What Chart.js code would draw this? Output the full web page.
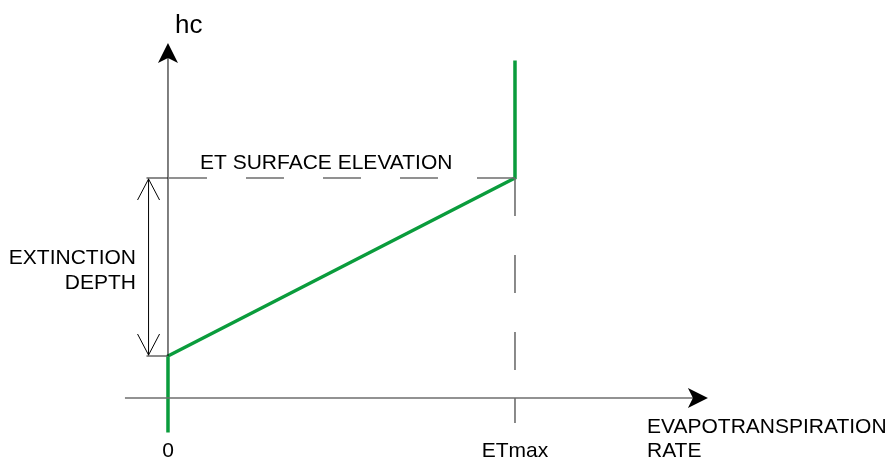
<!DOCTYPE html>
<html>
<head>
<meta charset="utf-8">
<script src="https://cdn.jsdelivr.net/npm/chart.js@4.4.0/dist/chart.umd.min.js"></script>
<style>
    html, body { margin: 0; padding: 0; background: #fff; }
    #box { width: 896px; height: 464px; }
</style>
</head>
<body>
<div id="box"><canvas id="et-chart" width="896" height="464"></canvas></div>
<script>
(function () {
    "use strict";

    // Data (x: ET rate, 0 .. ETmax = 1; y: head, 0 = extinction depth, 1 = ET surface)
    var rateX = [0, 0, 1, 1];
    var headY = [-0.43, 0, 1, 1.66];
    var tickValues = [0, 1];
    var tickLabels = ["0", "ETmax"];
    var surfaceY = 1;
    var extinctionY = 0;
    var axisY = -0.236;
    var xAxisRange = [-0.124, 1.556];
    var yAxisRange = [0, 1.758];

    var green = "#0a9c3c";
    var grey = "#6e6e6e";
    var font = "21px 'Liberation Sans', Arial, sans-serif";

    function pts(xs, ys) {
        return xs.map(function (x, i) { return {x: x, y: ys[i]}; });
    }

    function line(xs, ys, color, width, dash) {
        return {
            data: pts(xs, ys),
            showLine: true,
            borderColor: color,
            borderWidth: width,
            borderDash: dash || [],
            pointRadius: 0,
            fill: false,
            borderCapStyle: "butt",
            borderJoinStyle: "miter"
        };
    }

    // Arrows and text
    var sketch = {
        id: "sketch",
        afterDatasetsDraw: function (chart) {
            var c = chart.ctx;
            var sx = chart.scales.x, sy = chart.scales.y;
            var px = function (v) { return sx.getPixelForValue(v); };
            var py = function (v) { return sy.getPixelForValue(v); };

            c.save();
            c.fillStyle = "#000";

            // y axis head
            var tx = px(0), ty = py(yAxisRange[1]);
            c.beginPath();
            c.moveTo(tx, ty);
            c.lineTo(tx - 10, ty + 20);
            c.lineTo(tx, ty + 15);
            c.lineTo(tx + 10, ty + 20);
            c.closePath();
            c.fill();

            // x axis head
            tx = px(xAxisRange[1]); ty = py(axisY);
            c.beginPath();
            c.moveTo(tx, ty);
            c.lineTo(tx - 20, ty - 10);
            c.lineTo(tx - 15, ty);
            c.lineTo(tx - 20, ty + 10);
            c.closePath();
            c.fill();

            // extinction depth arrows (open)
            var dx = px(-0.056);
            c.strokeStyle = "#000";
            c.lineWidth = 1;
            c.beginPath();
            c.moveTo(dx - 11, py(surfaceY) + 22);
            c.lineTo(dx, py(surfaceY) + 1);
            c.lineTo(dx + 11, py(surfaceY) + 22);
            c.moveTo(dx - 11, py(extinctionY) - 22);
            c.lineTo(dx, py(extinctionY) - 1);
            c.lineTo(dx + 11, py(extinctionY) - 22);
            c.stroke();

            // labels
            c.font = font;
            c.textBaseline = "alphabetic";
            c.textAlign = "left";
            c.font = "26px 'Liberation Sans', Arial, sans-serif";
            c.fillText("hc", px(0) + 7, 33);
            c.font = font;

            c.textAlign = "center";
            c.fillText("ET SURFACE ELEVATION", px(0.456), py(surfaceY) - 9);
            tickValues.forEach(function (v, i) {
                c.fillText(tickLabels[i], px(v), py(axisY) + 59);
            });

            c.textAlign = "right";
            c.fillText("EXTINCTION", 136, 264);
            c.fillText("DEPTH", 136, 289);

            c.textAlign = "left";
            c.fillText("EVAPOTRANSPIRATION", 647, py(axisY) + 35);
            c.fillText("RATE", 647, py(axisY) + 59);
            c.restore();
        }
    };

    var ctx = document.getElementById("et-chart").getContext("2d");
    var etChart = new Chart(ctx, {
        type: "scatter",
        data: {
            datasets: [
                // x axis
                line([xAxisRange[0], xAxisRange[1] - 0.04], [axisY, axisY], grey, 1.6),
                // y axis
                line([0, 0], [extinctionY, yAxisRange[1] - 0.08], "#000", 1),
                // ET surface dashed line
                line([1, 0], [surfaceY, surfaceY], grey, 1.6, [38, 39]),
                line([-0.062, 0], [surfaceY, surfaceY], grey, 1.6),
                line([-0.062, 0], [extinctionY, extinctionY], grey, 1.6),
                // ETmax dashed line and tick
                line([1, 1], [surfaceY, axisY], grey, 1.6, [38, 39]),
                line([1, 1], [axisY, -0.376], grey, 1.6),
                // extinction depth span
                line([-0.056, -0.056], [extinctionY, surfaceY], "#000", 1),
                // ET rate function
                line(rateX, headY, green, 3.5)
            ]
        },
        options: {
            responsive: false,
            animation: false,
            layout: { padding: 0 },
            plugins: {
                legend: { display: false },
                tooltip: { enabled: false }
            },
            scales: {
                x: { type: "linear", display: false, min: -0.4841, max: 2.098 },
                y: { type: "linear", display: false, min: -0.6067, max: 2.0 }
            }
        },
        plugins: [sketch]
    });
})();
</script>
</body>
</html>
